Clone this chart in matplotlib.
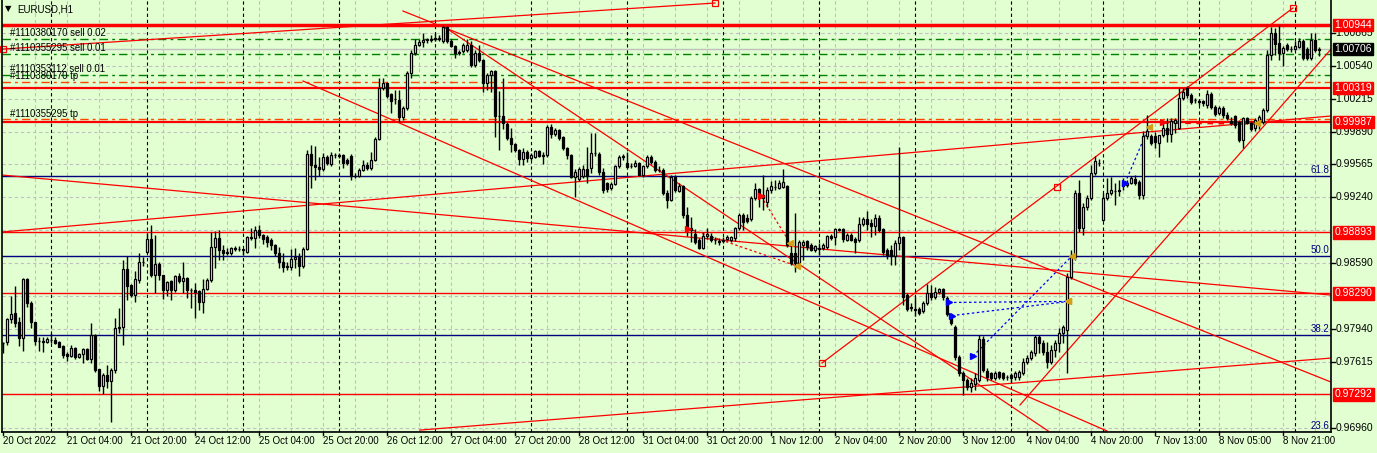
import matplotlib
matplotlib.use("Agg")
import matplotlib.pyplot as plt
import numpy as np
from matplotlib.transforms import blended_transform_factory

plt.rcParams["font.family"] = ["Liberation Sans", "DejaVu Sans"]

# EURUSD H1 candles, prices in pips (price * 10000)
opens = [9780, 9781, 9804, 9810, 9801, 9785, 9843, 9819, 9801, 9782,
         9782, 9781, 9783, 9783, 9781, 9777, 9769, 9767, 9775, 9766,
         9769, 9774, 9764, 9788, 9754, 9737, 9748, 9742, 9753, 9795,
         9796, 9853, 9837, 9827, 9842, 9860, 9870, 9883, 9847, 9858,
         9847, 9832, 9841, 9832, 9846, 9841, 9844, 9832, 9832, 9831,
         9820, 9833, 9842, 9875, 9884, 9872, 9870, 9869, 9874, 9873,
         9873, 9870, 9885, 9884, 9892, 9887, 9885, 9882, 9877, 9869,
         9860, 9856, 9855, 9863, 9865, 9856, 9873, 9967, 9956, 9954,
         9952, 9964, 9957, 9966, 9966, 9966, 9961, 9965, 9945, 9945,
         9951, 9956, 9953, 9961, 9982, 10032, 10037, 10026, 10021, 10020,
         10003, 10012, 10047, 10067, 10075, 10078, 10080, 10080, 10081, 10082,
         10079, 10092, 10079, 10074, 10068, 10069, 10070, 10075, 10055, 10067,
         10060, 10037, 10045, 10049, 10004, 10004, 9996, 9983, 9977, 9971,
         9962, 9969, 9963, 9964, 9970, 9965, 9966, 9994, 9987, 9991,
         9984, 9973, 9966, 9944, 9942, 9945, 9952, 9953, 9968, 9967,
         9949, 9938, 9933, 9937, 9955, 9964, 9958, 9955, 9955, 9958,
         9946, 9955, 9964, 9959, 9951, 9951, 9928, 9921, 9944, 9930,
         9935, 9906, 9894, 9888, 9882, 9874, 9886, 9886, 9882, 9881,
         9881, 9883, 9882, 9884, 9894, 9906, 9904, 9903, 9923, 9932,
         9926, 9919, 9931, 9934, 9933, 9934, 9935, 9869, 9869, 9859,
         9877, 9881, 9877, 9872, 9874, 9874, 9875, 9886, 9885, 9892,
         9893, 9882, 9887, 9883, 9882, 9898, 9903, 9899, 9896, 9904,
         9893, 9872, 9872, 9866, 9879, 9885, 9827, 9815, 9814, 9814,
         9812, 9819, 9829, 9825, 9830, 9833, 9824, 9809, 9796, 9766,
         9750, 9743, 9736, 9739, 9743, 9784, 9752, 9750, 9745, 9751,
         9750, 9746, 9748, 9746, 9746, 9750, 9761, 9765, 9770, 9786,
         9780, 9771, 9761, 9773, 9780, 9790, 9793, 9845, 9865, 9928,
         9894, 9914, 9923, 9948, 9958, 9902, 9923, 9928, 9930, 9931,
         9935, 9936, 9938, 9942, 9939, 9926, 9985, 9985, 9985, 9978,
         9986, 9993, 9987, 9997, 9993, 10022, 10032, 10025, 10020, 10019,
         10019, 10015, 10026, 10013, 10007, 10012, 10005, 9999, 10004, 9998,
         9981, 10002, 9997, 9993, 9995, 9998, 10010, 10065, 10086, 10077,
         10067, 10075, 10071, 10071, 10073, 10079, 10071, 10062, 10080, 10070]
highs = [9781, 9805, 9826, 9836, 9806, 9844, 9844, 9821, 9801, 9786,
         9786, 9786, 9790, 9786, 9782, 9778, 9771, 9778, 9776, 9770,
         9775, 9775, 9800, 9789, 9754, 9750, 9758, 9755, 9805, 9815,
         9862, 9866, 9838, 9851, 9869, 9865, 9889, 9897, 9887, 9860,
         9847, 9841, 9842, 9847, 9849, 9860, 9845, 9834, 9839, 9832,
         9843, 9844, 9890, 9891, 9892, 9877, 9874, 9875, 9876, 9876,
         9873, 9886, 9894, 9896, 9897, 9888, 9887, 9884, 9878, 9875,
         9869, 9860, 9873, 9874, 9869, 9875, 9971, 9976, 9975, 9964,
         9968, 9966, 9969, 9968, 9968, 9967, 9963, 9967, 9948, 9953,
         9961, 9959, 9969, 9984, 10042, 10042, 10038, 10027, 10030, 10030,
         10014, 10049, 10070, 10081, 10081, 10086, 10082, 10084, 10086, 10084,
         10094, 10093, 10081, 10075, 10070, 10077, 10081, 10079, 10070, 10075,
         10061, 10047, 10050, 10050, 10029, 10042, 9998, 9993, 9978, 9972,
         9973, 9971, 9968, 9971, 9971, 9969, 9995, 9996, 9993, 9992,
         9985, 9974, 9967, 9952, 9954, 9956, 9974, 9988, 9988, 9969,
         9953, 9939, 9939, 9956, 9966, 9967, 9969, 9958, 9961, 9959,
         9956, 9966, 9966, 9961, 9955, 9953, 9931, 9946, 9946, 9938,
         9936, 9914, 9905, 9893, 9884, 9890, 9894, 9889, 9885, 9884,
         9885, 9887, 9886, 9895, 9908, 9908, 9907, 9925, 9938, 9933,
         9946, 9934, 9940, 9941, 9941, 9952, 9936, 9879, 9908, 9882,
         9882, 9882, 9879, 9877, 9879, 9879, 9887, 9888, 9894, 9894,
         9894, 9889, 9889, 9885, 9905, 9905, 9910, 9903, 9907, 9906,
         9894, 9874, 9877, 9882, 9974, 9886, 9829, 9819, 9825, 9816,
         9821, 9838, 9837, 9835, 9834, 9834, 9826, 9810, 9798, 9768,
         9752, 9745, 9745, 9750, 9788, 9787, 9755, 9751, 9752, 9752,
         9751, 9748, 9750, 9752, 9753, 9765, 9768, 9773, 9788, 9788,
         9783, 9781, 9778, 9783, 9795, 9798, 9849, 9872, 9931, 9941,
         9918, 9926, 9956, 9965, 9962, 9928, 9943, 9944, 9938, 9941,
         9943, 9941, 9945, 9946, 9941, 9990, 10005, 9987, 9989, 9986,
         9997, 10002, 10002, 10002, 10032, 10032, 10034, 10027, 10022, 10021,
         10020, 10030, 10028, 10015, 10014, 10014, 10008, 10003, 10005, 10000,
         10003, 10003, 9999, 10002, 10005, 10012, 10070, 10092, 10091, 10094,
         10074, 10077, 10074, 10079, 10082, 10081, 10073, 10086, 10086, 10073]
lows = [9770, 9778, 9800, 9796, 9777, 9772, 9816, 9795, 9778, 9772,
        9771, 9780, 9780, 9779, 9776, 9765, 9762, 9766, 9764, 9765,
        9760, 9763, 9760, 9751, 9732, 9729, 9735, 9702, 9750, 9790,
        9778, 9822, 9825, 9820, 9839, 9856, 9869, 9845, 9829, 9842,
        9823, 9826, 9822, 9830, 9839, 9829, 9824, 9815, 9805, 9813,
        9810, 9832, 9840, 9854, 9862, 9862, 9867, 9867, 9871, 9871,
        9867, 9869, 9882, 9874, 9884, 9878, 9875, 9872, 9866, 9854,
        9850, 9852, 9852, 9854, 9846, 9854, 9872, 9933, 9941, 9945,
        9950, 9956, 9955, 9963, 9963, 9953, 9956, 9941, 9943, 9944,
        9950, 9951, 9951, 9960, 9981, 10030, 10022, 10007, 10016, 9998,
        10000, 10010, 10042, 10065, 10074, 10073, 10077, 10078, 10079, 10079,
        10077, 10077, 10073, 10062, 10065, 10067, 10068, 10053, 10053, 10058,
        10028, 10030, 10028, 9984, 9971, 9992, 9981, 9969, 9969, 9956,
        9956, 9959, 9961, 9963, 9964, 9957, 9964, 9983, 9985, 9981,
        9971, 9962, 9943, 9924, 9940, 9943, 9938, 9948, 9965, 9946,
        9928, 9929, 9931, 9936, 9953, 9961, 9953, 9953, 9954, 9945,
        9944, 9953, 9957, 9949, 9949, 9926, 9913, 9920, 9929, 9929,
        9904, 9886, 9880, 9878, 9873, 9873, 9883, 9880, 9878, 9877,
        9879, 9881, 9880, 9881, 9892, 9892, 9899, 9901, 9921, 9914,
        9911, 9914, 9928, 9931, 9932, 9933, 9875, 9857, 9850, 9854,
        9862, 9872, 9871, 9870, 9867, 9872, 9873, 9882, 9877, 9891,
        9880, 9881, 9881, 9869, 9880, 9896, 9892, 9885, 9887, 9890,
        9867, 9863, 9857, 9857, 9872, 9817, 9812, 9812, 9807, 9808,
        9810, 9817, 9822, 9823, 9828, 9822, 9807, 9798, 9763, 9747,
        9728, 9733, 9731, 9733, 9741, 9751, 9742, 9743, 9743, 9744,
        9743, 9743, 9741, 9743, 9743, 9748, 9759, 9763, 9767, 9770,
        9768, 9755, 9759, 9766, 9771, 9780, 9750, 9843, 9862, 9890,
        9887, 9911, 9921, 9946, 9955, 9901, 9921, 9926, 9916, 9925,
        9931, 9934, 9937, 9936, 9922, 9922, 9982, 9976, 9973, 9964,
        9984, 9979, 9979, 9988, 9992, 10020, 10022, 10016, 10017, 10015,
        10014, 10012, 10011, 10004, 10005, 10002, 10000, 9995, 9993, 9979,
        9973, 9996, 9990, 9990, 9992, 9996, 10008, 10060, 10065, 10060,
        10054, 10069, 10068, 10070, 10072, 10060, 10060, 10060, 10068, 10064]
closes = [9780, 9804, 9809, 9800, 9785, 9843, 9819, 9801, 9782, 9782,
          9781, 9784, 9783, 9780, 9776, 9768, 9767, 9775, 9766, 9769,
          9774, 9764, 9788, 9753, 9737, 9748, 9742, 9753, 9795, 9796,
          9853, 9836, 9827, 9843, 9860, 9860, 9883, 9847, 9858, 9847,
          9832, 9840, 9832, 9846, 9841, 9844, 9832, 9832, 9830, 9820,
          9833, 9842, 9875, 9884, 9872, 9869, 9869, 9874, 9873, 9873,
          9872, 9885, 9884, 9892, 9887, 9883, 9880, 9877, 9869, 9860,
          9855, 9855, 9863, 9865, 9856, 9873, 9967, 9956, 9954, 9952,
          9964, 9958, 9966, 9966, 9965, 9958, 9958, 9945, 9945, 9951,
          9956, 9953, 9961, 9982, 10032, 10037, 10024, 10019, 10021, 10003,
          10012, 10047, 10067, 10075, 10078, 10080, 10080, 10081, 10082, 10081,
          10092, 10079, 10074, 10067, 10067, 10075, 10075, 10055, 10067, 10060,
          10037, 10045, 10049, 10004, 10004, 9997, 9983, 9977, 9971, 9962,
          9969, 9963, 9966, 9970, 9965, 9966, 9994, 9987, 9991, 9983,
          9973, 9966, 9944, 9949, 9952, 9952, 9945, 9968, 9968, 9949,
          9931, 9932, 9937, 9955, 9964, 9965, 9954, 9955, 9958, 9946,
          9955, 9964, 9959, 9951, 9951, 9928, 9921, 9944, 9931, 9935,
          9906, 9894, 9892, 9880, 9874, 9886, 9888, 9882, 9882, 9880,
          9882, 9885, 9885, 9894, 9906, 9900, 9901, 9923, 9932, 9926,
          9923, 9931, 9935, 9934, 9938, 9939, 9877, 9859, 9859, 9880,
          9880, 9875, 9872, 9876, 9873, 9877, 9886, 9884, 9893, 9893,
          9883, 9887, 9882, 9880, 9898, 9903, 9898, 9896, 9904, 9892,
          9870, 9867, 9866, 9879, 9885, 9825, 9814, 9815, 9813, 9810,
          9819, 9829, 9825, 9830, 9833, 9825, 9809, 9800, 9766, 9750,
          9743, 9736, 9740, 9745, 9784, 9753, 9746, 9745, 9750, 9746,
          9745, 9746, 9745, 9750, 9751, 9761, 9765, 9771, 9786, 9780,
          9771, 9761, 9773, 9780, 9790, 9796, 9845, 9865, 9928, 9894,
          9914, 9923, 9948, 9960, 9958, 9923, 9928, 9931, 9930, 9930,
          9938, 9938, 9943, 9938, 9926, 9985, 9990, 9978, 9979, 9986,
          9993, 9987, 9999, 10000, 10022, 10028, 10025, 10018, 10020, 10018,
          10017, 10026, 10013, 10006, 10012, 10005, 10002, 9997, 9995, 9981,
          10002, 9997, 9992, 10000, 10003, 10010, 10065, 10086, 10076, 10067,
          10072, 10071, 10071, 10074, 10079, 10062, 10062, 10080, 10070, 10071]

time_labels = ["20 Oct 2022", "21 Oct 04:00", "21 Oct 20:00", "24 Oct 12:00",
               "25 Oct 04:00", "25 Oct 20:00", "26 Oct 12:00", "27 Oct 04:00",
               "27 Oct 20:00", "28 Oct 12:00", "31 Oct 04:00", "31 Oct 20:00",
               "1 Nov 12:00", "2 Nov 04:00", "2 Nov 20:00", "3 Nov 12:00",
               "4 Nov 04:00", "4 Nov 20:00", "7 Nov 13:00", "8 Nov 05:00",
               "8 Nov 21:00"]
day_starts = [12, 36, 60, 84, 108, 132, 156, 180, 204, 228, 252, 275, 299, 323]
price_ticks = [0.96960, 0.97615, 0.97940, 0.98590, 0.99240, 0.99565,
               0.99890, 1.00215, 1.00540, 1.00865]
grid_prices = [0.96960, 0.97290, 0.97615, 0.97940, 0.98265, 0.98590, 0.98915,
               0.99240, 0.99565, 0.99890, 1.00215, 1.00540, 1.00865]
levels = [1.00944, 1.00319, 0.99987, 0.98893, 0.98290, 0.97292]
level_widths = [2.5, 1.6, 1.6, 1.0, 1.0, 1.0]
last_price = 1.00706

orders = [("#1110380170 sell 0.02", 1.00810, "#008000"),
          ("#1110355295 sell 0.01", 1.00660, "#008000"),
          ("#1110353112 sell 0.01", 1.00450, "#008000"),
          ("#1110380170 tp", 1.00380, "#FF4500"),
          ("#1110355295 tp", 1.00010, "#FF4500")]

fib_names = ["61.8", "50.0", "38.2", "23.6"]
fib_prices = [0.99450, 0.98660, 0.97880, 0.96915]

# trend lines: (bar0, price0, bar1, price1)
trend_lines = [(0.0, 1.00706, 178.0, 1.01161),
               (100.0, 1.01082, 332.0, 0.97413),
               (110.0, 1.00934, 261.3, 0.96929),
               (75.0, 1.00390, 276.0, 0.96929),
               (-0.25, 0.99460, 332.0, 0.98273),
               (-0.25, 0.98897, 332.0, 1.00044),
               (104.25, 0.96938, 332.0, 0.97650),
               (204.75, 0.97601, 322.5, 1.01112),
               (254.25, 0.97186, 332.25, 1.00716)]
anchors_bar = [0.0, 178.0, 204.75, 263.5, 322.5]
anchors_price = [1.00706, 1.01161, 0.97601, 0.99342, 1.01112]

# trade history: (bar0, price0, bar1, price1, colour, width)
trades = [(171.25, 0.98930, 198.5, 0.98560, "red", 0.9),
          (189.5, 0.99250, 196.75, 0.98790, "red", 0.9),
          (236.5, 0.98200, 266.25, 0.98210, "blue", 0.9),
          (237.25, 0.98070, 266.25, 0.98210, "blue", 0.9),
          (242.5, 0.97670, 267.25, 0.98660, "blue", 0.9),
          (280.5, 0.99380, 286.5, 0.99940, "blue", 0.9),
          (290.0, 0.99980, 313.5, 0.99970, "red", 2.0)]

BG = "#E1FFD0"
GRID = "#C0C0C0"
FW, FH = 1377, 453
X0, X1, YT, YB = 2, 1331, 0, 432

fig = plt.figure(figsize=(FW / 100, FH / 100), dpi=100)
fig.patch.set_facecolor(BG)
ax = fig.add_axes([X0 / FW, (FH - YB) / FH, (X1 - X0) / FW, (YB - YT) / FH])
ax.set_facecolor(BG)
ymin, ymax = 0.96919, 1.01191
ax.set_xlim(-0.25, 332)
ax.set_ylim(ymin, ymax)
for s in ["left", "bottom", "right"]:
    ax.spines[s].set_color("black")
    ax.spines[s].set_linewidth(1.2)
ax.spines["top"].set_visible(False)
ax.set_xticks([])
ax.set_yticks([])

# grid
for b in range(8, 332, 8):
    ax.axvline(b, color=GRID, lw=0.8, dashes=(3, 2.5), zorder=0.5)
for p in grid_prices:
    ax.axhline(p, color=GRID, lw=0.8, dashes=(3, 2.5), zorder=0.5)
for b in day_starts:
    ax.axvline(b, color="black", lw=0.8, dashes=(3, 2.5), zorder=0.6)

# horizontal levels and order lines
for p, w in zip(levels, level_widths):
    ax.axhline(p, color="red", lw=w, zorder=1.5)
ax.axhline(last_price, color="#C0C0C0", lw=1, zorder=1.4)
for txt, p, col in orders:
    ax.axhline(p, color=col, lw=1, dashes=(6, 3, 2, 3), zorder=1.4)
    ax.text(1.75, p + 0.00008, txt, fontsize=6.9, color="black",
            va="bottom", ha="left", zorder=6)
for name, p in zip(fib_names, fib_prices):
    ax.axhline(p, color="#000080", lw=1, zorder=1.5)
    ax.text(331.5, p + 0.0001, name, fontsize=7, color="#000080",
            va="bottom", ha="right", zorder=6)

for b0, p0, b1, p1 in trend_lines:
    ax.plot([b0, b1], [p0, p1], color="red", lw=0.9, zorder=1.6)
ax.plot(anchors_bar, anchors_price, ls="none", marker="s", ms=4,
        mfc="none", mec="red", mew=0.9, zorder=2, clip_on=False)

for b0, p0, b1, p1, col, w in trades:
    ax.plot([b0, b1], [p0, p1], color=col, lw=w, dashes=(2, 2), zorder=1.7)
    ax.plot(b0, p0, marker=">", ms=5, color=col, zorder=4)
    ax.plot(b1, p1, marker="<", ms=5, color="#D4A017", zorder=4)

# candles
o = np.array(opens) / 10000
h = np.array(highs) / 10000
l = np.array(lows) / 10000
c = np.array(closes) / 10000
x = np.arange(len(o))
up = c >= o
ax.vlines(x, l, h, color="black", lw=1, zorder=3)
ax.bar(x[up], np.maximum(c - o, 0.000005)[up], bottom=o[up], width=0.55,
       color="white", edgecolor="black", lw=0.9, zorder=3.5)
ax.bar(x[~up], (o - c)[~up], bottom=c[~up], width=0.55,
       color="black", edgecolor="black", lw=0.9, zorder=3.5)

# right price scale
tr = blended_transform_factory(ax.transAxes, ax.transData)
for p in price_ticks:
    ax.text(1.0035, p, f"{p:.5f}", transform=tr, fontsize=7.5, va="center",
            ha="left", color="black", clip_on=False)
    ax.plot([1.0, 1.003], [p, p], transform=tr, color="black", lw=1,
            clip_on=False)
for p in levels:
    ax.text(1.0026, p, f"{p:.5f}", transform=tr, fontsize=7.5, va="center",
            ha="left", color="white", clip_on=False, zorder=10,
            bbox=dict(boxstyle="square,pad=0.12", fc="red", ec="red"))
ax.text(1.0026, last_price, f"{last_price:.5f}", transform=tr, fontsize=7.5,
        va="center", ha="left", color="white", clip_on=False, zorder=10,
        bbox=dict(boxstyle="square,pad=0.12", fc="black", ec="black"))

# time scale
trx = blended_transform_factory(ax.transData, ax.transAxes)
for i, lab in enumerate(time_labels):
    b = i * 16
    ax.text(b - 0.1, -0.021, lab, transform=trx, fontsize=7, va="center",
            ha="left", color="black", clip_on=False)
    ax.plot([b, b], [0, -0.008], transform=trx, color="black", lw=1,
            clip_on=False)

fig.text(5 / FW, 1 - 9 / FH, "\u25bc", fontsize=6, va="center", ha="left",
         family="DejaVu Sans")
fig.text(17 / FW, 1 - 9 / FH, "EURUSD,H1", fontsize=7, va="center", ha="left")

fig.savefig("out.png", dpi=100, facecolor=BG)
